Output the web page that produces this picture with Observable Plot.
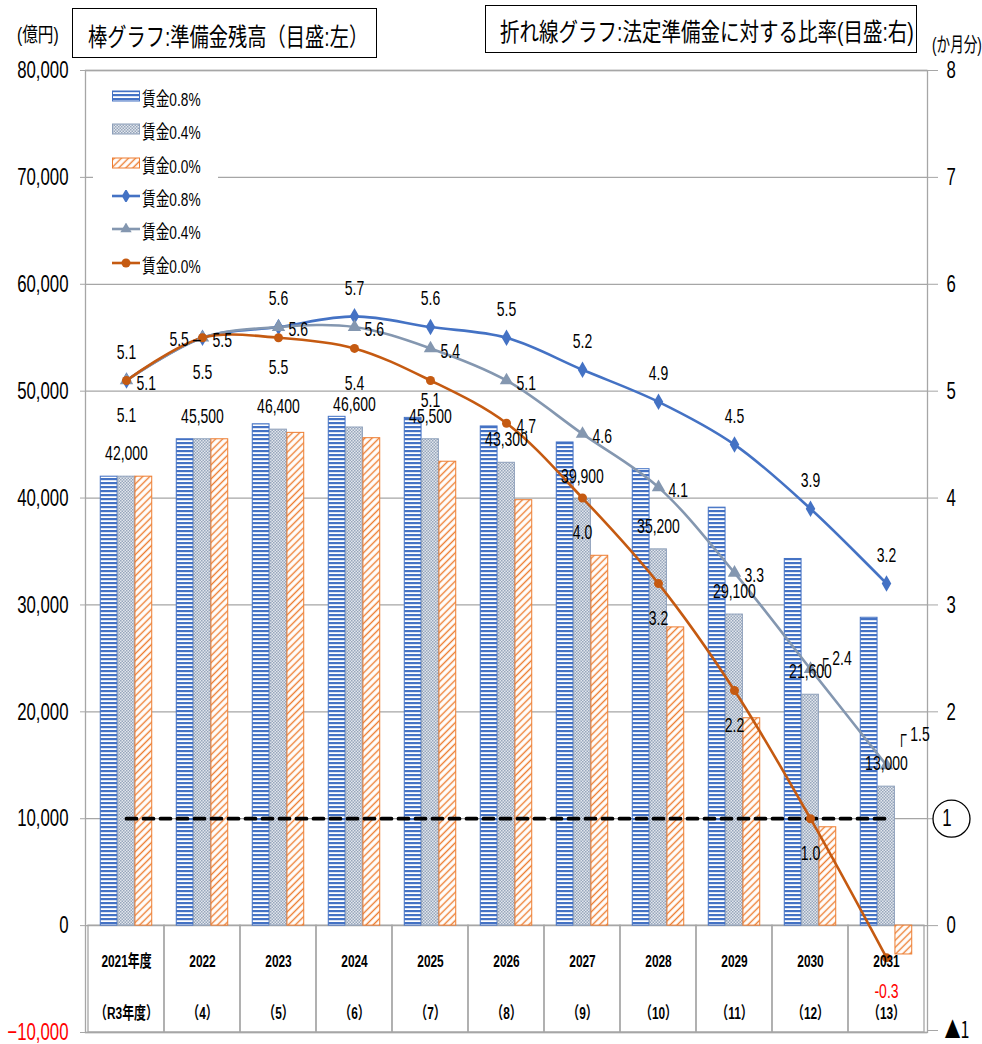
<!DOCTYPE html>
<html>
<head>
<meta charset="utf-8">
<script src="https://cdn.jsdelivr.net/npm/d3@7"></script>
<script src="https://cdn.jsdelivr.net/npm/@observablehq/plot@0.6"></script>
<style>
  body { margin: 0; background: #fff; }
  #wrap { position: relative; width: 982px; height: 1044px; overflow: hidden; background: #fff;
          font-family: "Liberation Sans", "Noto Sans CJK JP", sans-serif; color: #000; }
  #chart { position: absolute; left: 0; top: 50px; }
  .box { position: absolute; border: 1.5px solid #000; background: #fff; box-sizing: border-box; white-space: nowrap; overflow: visible; }
  .sq { display: inline-block; transform-origin: left center; white-space: nowrap; }
  .note { position: absolute; white-space: nowrap; transform-origin: left center; font-size: 20px; }
  #legend { position: absolute; left: 93px; top: 80px; width: 125px; height: 198px; background: #fff; }
  #legend .item { position: absolute; left: 0; height: 33px; width: 125px; }
  #legend svg { position: absolute; left: 19px; top: 10px; }
  #legend .lab { position: absolute; left: 49px; top: 4px; font-size: 19px; transform: scaleX(0.72); transform-origin: left center; white-space: nowrap; font-family: "Liberation Sans", "Noto Sans CJK JP", sans-serif; }
</style>
</head>
<body>
<svg width="0" height="0" style="position:absolute">
  <defs>
    <pattern id="pBlue" patternUnits="userSpaceOnUse" width="4" height="4">
      <rect width="4" height="4" fill="#ffffff"/>
      <rect width="4" height="2.2" fill="#4472C4"/>
    </pattern>
    <pattern id="pGray" patternUnits="userSpaceOnUse" width="3" height="3">
      <rect width="3" height="3" fill="#e2e6ed"/>
      <rect width="1.5" height="1.5" fill="#97a6bb"/>
      <rect x="1.5" y="1.5" width="1.5" height="1.5" fill="#97a6bb"/>
    </pattern>
    <pattern id="pOrange" patternUnits="userSpaceOnUse" width="5" height="5" patternTransform="rotate(45)">
      <rect width="5" height="5" fill="#ffffff"/>
      <line x1="2.5" y1="0" x2="2.5" y2="5" stroke="#ED7D31" stroke-width="1.4"/>
    </pattern>
  </defs>
</svg>
<div id="wrap">
  <div id="chart"></div>
  <div class="note" style="left:17px;top:19px;transform:scaleX(0.78)">(億円)</div>
  <div class="box" style="left:72px;top:8px;width:305px;height:50px;">
    <span class="sq" style="position:absolute;left:15px;top:8px;font-size:25px;transform:scaleX(0.77)">棒グラフ:準備金残高（目盛:左）</span>
  </div>
  <div class="box" style="left:485px;top:5px;width:432px;height:48px;">
    <span class="sq" style="position:absolute;left:14px;top:6px;font-size:25px;transform:scaleX(0.78)">折れ線グラフ:法定準備金に対する比率(目盛:右)</span>
  </div>
  <div class="note" style="left:932px;top:29px;transform:scaleX(0.68)">(か月分)</div>
  <div id="legend"></div>
</div>
<script>
// ---- data ----
const years = ["2021","2022","2023","2024","2025","2026","2027","2028","2029","2030","2031"];
const yearLabels = ["2021年度","2022","2023","2024","2025","2026","2027","2028","2029","2030","2031"];
const subLabels = ["（R3年度）","（4）","（5）","（6）","（7）","（8）","（9）","（10）","（11）","（12）","（13）"];
const seriesNames = ["賃金0.8%","賃金0.4%","賃金0.0%"];
// 準備金残高（億円）
const reserve08 = [42000,45500,46900,47600,47500,46700,45200,42700,39100,34300,28800];
const reserve04 = [42000,45500,46400,46600,45500,43300,39900,35200,29100,21600,13000];
const reserve00 = [42000,45500,46100,45600,43400,39800,34600,27900,19400,9200,-2700];
// 法定準備金に対する比率（か月分）
const ratio08 = [5.1,5.5,5.6,5.7,5.6,5.5,5.2,4.9,4.5,3.9,3.2];
const ratio04 = [5.1,5.5,5.6,5.6,5.4,5.1,4.6,4.1,3.3,2.4,1.5];
const ratio00 = [5.1,5.5,5.5,5.4,5.1,4.7,4.0,3.2,2.2,1.0,-0.3];
const yTicks = [80000,70000,60000,50000,40000,30000,20000,10000,0,-10000];
const yDomain = [-10000, 80000];
const monthUnit = 10000;   // right axis: 1か月分 = 10,000 on left scale
const threshold = 1;       // 法定準備金 1か月分

const colors = { b08: "#4472C4", b04: "#8EA0BA", b00: "#ED7D31", l08: "#4472C4", l04: "#8497B0", l00: "#C55A11" };

const rows = years.map((year, i) => ({
  i, year, label: yearLabels[i], sub: subLabels[i],
  b08: reserve08[i], b04: reserve04[i], b00: reserve00[i],
  r08: ratio08[i], r04: ratio04[i], r00: ratio00[i]
}));

const W = 982, H = 994, mL = 85, mR = 55, mT = 20, mB = 12;
const bw = (W - mL - mR) / years.length;
const barW = bw * 0.2265;
const gap = (bw - 3 * barW) / 2;
const fmt = d3.format(",");
const fs = 20;
const grid = "#a6a6a6";

const ylab = d => d * monthUnit;

const chart = Plot.plot({
  width: W, height: H,
  marginLeft: mL, marginRight: mR, marginTop: mT, marginBottom: mB,
  x: { type: "band", domain: years, padding: 0, axis: null },
  y: { domain: yDomain, axis: null },
  style: { fontFamily: "'Liberation Sans','Noto Sans CJK JP',sans-serif", fontSize: "20px", color: "#000", background: "transparent", overflow: "visible" },
  marks: [
    Plot.ruleY(yTicks, { stroke: grid, strokeWidth: 1.3 }),
    Plot.barY(rows, { x: "year", y1: 0, y2: yDomain[0], fill: "none", stroke: grid, strokeWidth: 1.3 }),
    Plot.frame({ stroke: grid, strokeWidth: 1.3 }),
    Plot.axisY(yTicks.filter(t => t > yDomain[0]), { anchor: "left", tickSize: 5, tickPadding: 12, tickFormat: fmt, stroke: grid, fill: "#000", fontSize: 24 }),
    Plot.axisY([yDomain[0]], { anchor: "left", tickSize: 5, tickPadding: 12, tickFormat: fmt, stroke: grid, fill: "#ff0000", fontSize: 24 }),
    Plot.axisY(yTicks.filter(t => t > yDomain[0]), { anchor: "right", tickSize: 10, tickPadding: 9, stroke: grid, fill: "#000", fontSize: 24,
      tickFormat: d => d / monthUnit === threshold ? "" : String(d / monthUnit) }),
    Plot.axisY([yDomain[0]], { anchor: "right", tickSize: 10, tickPadding: 7, stroke: grid, fill: "#000", fontSize: 23, dy: -2,
      fontFamily: "'Noto Sans CJK JP',sans-serif", tickFormat: d => "▲" + (-d / monthUnit) }),
    // bars
    Plot.barY(rows, { x: "year", y: "b08", fill: "url(#pBlue)", stroke: colors.b08, strokeWidth: 1, insetLeft: gap, insetRight: bw - gap - barW }),
    Plot.barY(rows, { x: "year", y: "b04", fill: "url(#pGray)", stroke: colors.b04, strokeWidth: 1, insetLeft: gap + barW, insetRight: gap + barW }),
    Plot.barY(rows, { x: "year", y: "b00", fill: "url(#pOrange)", stroke: colors.b00, strokeWidth: 1, insetLeft: gap + 2 * barW, insetRight: gap }),
    // 1か月分 threshold
    Plot.line(rows, { x: "year", y: () => threshold * monthUnit, stroke: "#000", strokeWidth: 3.8, strokeDasharray: "10,7" }),
    // lines
    Plot.line(rows, { x: "year", y: d => ylab(d.r08), stroke: colors.l08, strokeWidth: 2.6, curve: "catmull-rom" }),
    Plot.line(rows, { x: "year", y: d => ylab(d.r04), stroke: colors.l04, strokeWidth: 2.6, curve: "catmull-rom" }),
    Plot.line(rows, { x: "year", y: d => ylab(d.r00), stroke: colors.l00, strokeWidth: 2.6, curve: "catmull-rom" }),
    Plot.dot(rows, { x: "year", y: d => ylab(d.r08), symbol: "diamond", r: 5, fill: colors.l08 }),
    Plot.dot(rows, { x: "year", y: d => ylab(d.r04), symbol: "triangle", r: 5, fill: colors.l04 }),
    Plot.dot(rows, { x: "year", y: d => ylab(d.r00), symbol: "circle", r: 4.5, fill: colors.l00 }),
    // bar value labels (賃金0.4%)
    Plot.text(rows, { x: "year", y: "b04", text: d => fmt(d.b04), dy: -23, fontSize: fs }),
    // 0.8% labels
    Plot.text(rows.filter(d => d.i !== 1), { x: "year", y: d => ylab(d.r08), text: d => d.r08.toFixed(1), dy: -28, fontSize: fs }),
    Plot.text(rows.filter(d => d.i === 1), { x: "year", y: d => ylab(d.r08), text: d => d.r08.toFixed(1) + " –", textAnchor: "end", dx: -2, dy: 2, fontSize: fs }),
    // 0.4% labels
    Plot.text(rows.filter(d => d.i < 9), { x: "year", y: d => ylab(d.r04), text: d => d.r04.toFixed(1), textAnchor: "start", dx: 10, dy: 3, fontSize: fs }),
    Plot.text(rows.filter(d => d.i === 9), { x: "year", y: d => ylab(d.r04), text: d => "┌ " + d.r04.toFixed(1), textAnchor: "start", dx: 8, dy: -10, fontSize: fs }),
    Plot.text(rows.filter(d => d.i === 10), { x: "year", y: d => ylab(d.r04), text: d => "┌ " + d.r04.toFixed(1), textAnchor: "start", dx: 10, dy: -31, fontSize: fs }),
    // 0.0% labels
    Plot.text(rows.filter(d => ![2, 4, 5].includes(d.i) && d.r00 >= 0), { x: "year", y: d => ylab(d.r00), text: d => d.r00.toFixed(1), dy: 35, fontSize: fs }),
    Plot.text(rows.filter(d => d.i === 2), { x: "year", y: d => ylab(d.r00), text: d => d.r00.toFixed(1), dy: 30, fontSize: fs }),
    Plot.text(rows.filter(d => d.i === 4), { x: "year", y: d => ylab(d.r00), text: d => d.r00.toFixed(1), dy: 20, fontSize: fs }),
    Plot.text(rows.filter(d => d.i === 5), { x: "year", y: d => ylab(d.r00), text: d => d.r00.toFixed(1), textAnchor: "start", dx: 10, dy: 3, fontSize: fs }),
    Plot.text(rows.filter(d => d.r00 < 0), { x: "year", y: d => ylab(d.r00), text: d => d.r00.toFixed(1), dy: 34, fontSize: fs, fill: "#ff0000" }),
    // category labels
    Plot.text(rows, { x: "year", frameAnchor: "bottom", lineAnchor: "middle", text: d => d.label + "\n" + d.sub, lineHeight: 3.05, dy: -56, fontWeight: "bold", fontSize: 17 }),
    // circled 1 on right axis
    Plot.dot([threshold], { y: d => d * monthUnit, frameAnchor: "right", dx: 24, r: 18.5, stroke: "#000", fill: "#fff", strokeWidth: 1.3 }),
    Plot.text([threshold], { y: d => d * monthUnit, frameAnchor: "right", dx: 24, text: d => String(d), fontSize: 24 })
  ]
});

// condense all chart text horizontally, like the reference
chart.querySelectorAll("text").forEach(t => {
  const tr = t.getAttribute("transform") || "";
  t.setAttribute("transform", tr + " scale(0.7,1)");
});
document.getElementById("chart").appendChild(chart);

// legend
const legend = document.getElementById("legend");
const items = [
  { name: seriesNames[0], kind: "bar", fill: "url(#pBlue)", stroke: colors.b08 },
  { name: seriesNames[1], kind: "bar", fill: "url(#pGray)", stroke: colors.b04 },
  { name: seriesNames[2], kind: "bar", fill: "url(#pOrange)", stroke: colors.b00 },
  { name: seriesNames[0], kind: "line", stroke: colors.l08, sym: "diamond" },
  { name: seriesNames[1], kind: "line", stroke: colors.l04, sym: "triangle" },
  { name: seriesNames[2], kind: "line", stroke: colors.l00, sym: "circle" }
];
items.forEach((it, k) => {
  const div = document.createElement("div");
  div.className = "item";
  div.style.top = (k * 33.3) + "px";
  let sw;
  if (it.kind === "bar") {
    sw = `<svg width="28" height="12"><rect x="0.5" y="1" width="27" height="10" fill="${it.fill}" stroke="${it.stroke}" stroke-width="1"/></svg>`;
  } else {
    const sym = it.sym === "diamond" ? d3.symbol(d3.symbolDiamond, 60)() : it.sym === "triangle" ? d3.symbol(d3.symbolTriangle, 55)() : d3.symbol(d3.symbolCircle, 64)();
    sw = `<svg width="28" height="12"><line x1="0" y1="6" x2="28" y2="6" stroke="${it.stroke}" stroke-width="2.6"/><path transform="translate(14,6)" d="${sym}" fill="${it.stroke}"/></svg>`;
  }
  div.innerHTML = sw + `<span class="lab">${it.name}</span>`;
  legend.appendChild(div);
});
</script>
</body>
</html>
